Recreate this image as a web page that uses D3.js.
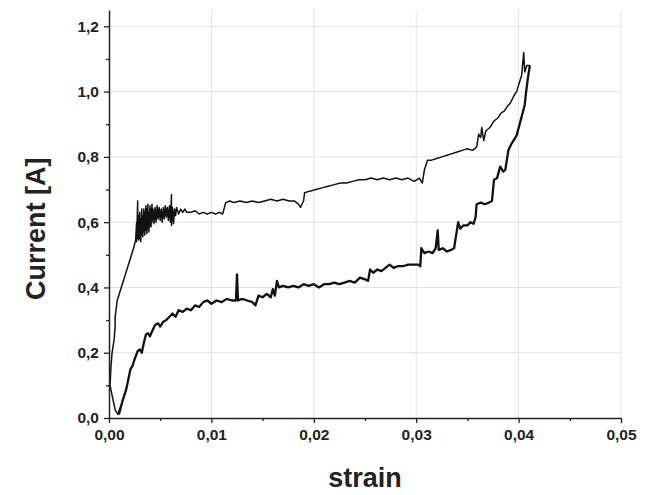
<!DOCTYPE html>
<html>
<head>
<meta charset="utf-8">
<style>
    body { margin: 0; background: #fff; }
    svg { font-family: 'Liberation Sans', Arial, sans-serif; }
    .grid line { stroke: #e2e2e2; stroke-width: 1; }
    .axis .domain { stroke: #222; stroke-width: 1.5; }
    .axis .tick line { stroke: #222; stroke-width: 1.3; }
    .axis .tick text { font-size: 15.5px; font-weight: bold; fill: #222; }
    .axis-label { font-weight: bold; fill: #222; }
</style>
</head>
<body>
<svg width="646" height="495"></svg>
<script src="https://d3js.org/d3.v7.min.js"></script>
<script>
// lower branch of the loop
let lowerStrain = [
    0.0009, 0.0011, 0.0010, 0.0013, 0.0015, 0.0017, 0.0019, 0.0021, 0.0023, 0.0025,
    0.0028, 0.0030, 0.0032, 0.0034, 0.0036, 0.0038, 0.0040, 0.0042, 0.0045, 0.0048,
    0.0050, 0.0053, 0.0056, 0.0059, 0.0062, 0.0065, 0.0068, 0.0072, 0.0076, 0.0080,
    0.0084, 0.0088, 0.0092, 0.0096, 0.0100, 0.0105, 0.0110, 0.0115, 0.0120, 0.0124,
    0.0125, 0.0126, 0.0130, 0.0135, 0.0140, 0.0143, 0.0146, 0.0150, 0.0154, 0.0158,
    0.0160, 0.0162, 0.0164, 0.0166, 0.0170, 0.0175, 0.0180, 0.0185, 0.0190, 0.0195,
    0.0200, 0.0205, 0.0210, 0.0215, 0.0220, 0.0225, 0.0230, 0.0235, 0.0240, 0.0245,
    0.0250, 0.0253, 0.0255, 0.0258, 0.0262, 0.0266, 0.0270, 0.0274, 0.0278, 0.0282,
    0.0287, 0.0292, 0.0297, 0.0302, 0.0304, 0.0305, 0.0308, 0.0312, 0.0316, 0.0319,
    0.0321, 0.0322, 0.0326, 0.0330, 0.0334, 0.0337, 0.0340, 0.0341, 0.0343, 0.0346,
    0.0350, 0.0353, 0.0356, 0.0358, 0.0359, 0.0363, 0.0367, 0.0371, 0.0374, 0.0376,
    0.0379, 0.0382, 0.0385, 0.0387, 0.0390, 0.0393, 0.0395, 0.0398, 0.0401, 0.0404,
    0.0406, 0.0407, 0.0409, 0.0411
]
let lowerCurrent = [
    0.010, 0.030, 0.015, 0.050, 0.070, 0.090, 0.120, 0.150, 0.160, 0.180,
    0.205, 0.210, 0.200, 0.230, 0.255, 0.260, 0.250, 0.265, 0.285, 0.290,
    0.280, 0.295, 0.300, 0.310, 0.320, 0.310, 0.330, 0.325, 0.335, 0.330,
    0.345, 0.340, 0.355, 0.360, 0.350, 0.360, 0.355, 0.365, 0.360, 0.360,
    0.440, 0.360, 0.365, 0.360, 0.355, 0.345, 0.375, 0.370, 0.380, 0.370,
    0.395, 0.375, 0.420, 0.400, 0.405, 0.400, 0.405, 0.400, 0.410, 0.405,
    0.410, 0.400, 0.410, 0.410, 0.415, 0.410, 0.415, 0.420, 0.415, 0.430,
    0.425, 0.420, 0.455, 0.445, 0.455, 0.450, 0.460, 0.470, 0.460, 0.465,
    0.465, 0.470, 0.470, 0.470, 0.465, 0.520, 0.505, 0.510, 0.505, 0.520,
    0.575, 0.515, 0.520, 0.510, 0.515, 0.520, 0.580, 0.600, 0.580, 0.590,
    0.590, 0.600, 0.595, 0.615, 0.655, 0.660, 0.655, 0.660, 0.665, 0.730,
    0.735, 0.770, 0.755, 0.760, 0.820, 0.840, 0.850, 0.865, 0.900, 0.935,
    0.960, 0.990, 1.040, 1.080
]

// upper branch of the loop
let upperStrain = [
    0.0009, 0.0006, 0.0004, 0.0001, 0.0002, 0.0003, 0.0005, 0.0006, 0.0006, 0.0008,
    0.0011, 0.0014, 0.0016, 0.0018, 0.0020, 0.0022, 0.0024, 0.0026, 0.0027, 0.0027,
    0.0028, 0.0028, 0.0029, 0.0029, 0.0030, 0.0030, 0.0031, 0.0031, 0.0032, 0.0032,
    0.0033, 0.0033, 0.0034, 0.0034, 0.0035, 0.0035, 0.0036, 0.0036, 0.0037, 0.0037,
    0.0038, 0.0038, 0.0039, 0.0039, 0.0040, 0.0040, 0.0041, 0.0041, 0.0042, 0.0042,
    0.0043, 0.0044, 0.0045, 0.0046, 0.0047, 0.0048, 0.0049, 0.0050, 0.0051, 0.0052,
    0.0053, 0.0054, 0.0055, 0.0056, 0.0057, 0.0058, 0.0059, 0.0060, 0.0061, 0.0061,
    0.0062, 0.0063, 0.0064, 0.0065, 0.0066, 0.0068, 0.0070, 0.0072, 0.0074, 0.0076,
    0.0080, 0.0084, 0.0088, 0.0092, 0.0096, 0.0100, 0.0104, 0.0108, 0.0111, 0.0114,
    0.0118, 0.0122, 0.0128, 0.0134, 0.0140, 0.0146, 0.0152, 0.0158, 0.0164, 0.0170,
    0.0176, 0.0181, 0.0185, 0.0187, 0.0190, 0.0191, 0.0196, 0.0202, 0.0208, 0.0214,
    0.0220, 0.0226, 0.0232, 0.0238, 0.0244, 0.0250, 0.0256, 0.0262, 0.0268, 0.0274,
    0.0280, 0.0286, 0.0292, 0.0298, 0.0303, 0.0306, 0.0308, 0.0311, 0.0315, 0.0320,
    0.0325, 0.0330, 0.0335, 0.0340, 0.0345, 0.0350, 0.0355, 0.0359, 0.0361, 0.0363,
    0.0364, 0.0366, 0.0368, 0.0372, 0.0376, 0.0380, 0.0383, 0.0386, 0.0389, 0.0392,
    0.0395, 0.0398, 0.0401, 0.0403, 0.0405, 0.0406, 0.0408, 0.0411
]
let upperCurrent = [
    0.010, 0.025, 0.055, 0.100, 0.160, 0.200, 0.240, 0.280, 0.310, 0.360,
    0.390, 0.420, 0.440, 0.460, 0.480, 0.500, 0.520, 0.545, 0.600, 0.540,
    0.665, 0.550, 0.620, 0.545, 0.630, 0.550, 0.610, 0.540, 0.640, 0.560,
    0.620, 0.555, 0.640, 0.570, 0.630, 0.560, 0.650, 0.575, 0.640, 0.565,
    0.655, 0.580, 0.630, 0.570, 0.650, 0.590, 0.640, 0.585, 0.655, 0.600,
    0.640, 0.595, 0.645, 0.600, 0.650, 0.610, 0.645, 0.605, 0.640, 0.600,
    0.645, 0.610, 0.650, 0.615, 0.645, 0.605, 0.650, 0.600, 0.685, 0.590,
    0.645, 0.595, 0.640, 0.620, 0.645, 0.625, 0.640, 0.630, 0.640, 0.630,
    0.630, 0.635, 0.625, 0.630, 0.625, 0.630, 0.625, 0.630, 0.625, 0.660,
    0.665, 0.660, 0.665, 0.660, 0.665, 0.660, 0.665, 0.670, 0.665, 0.670,
    0.665, 0.665, 0.655, 0.645, 0.665, 0.690, 0.695, 0.700, 0.705, 0.710,
    0.715, 0.720, 0.720, 0.725, 0.730, 0.730, 0.735, 0.730, 0.735, 0.730,
    0.735, 0.730, 0.735, 0.725, 0.735, 0.720, 0.760, 0.790, 0.790, 0.795,
    0.800, 0.805, 0.810, 0.815, 0.820, 0.825, 0.820, 0.830, 0.870, 0.860,
    0.890, 0.850, 0.880, 0.890, 0.910, 0.920, 0.935, 0.940, 0.955, 0.965,
    0.985, 1.000, 1.030, 1.050, 1.120, 1.060, 1.080, 1.080
]

let xTicks = [0, 0.01, 0.02, 0.03, 0.04, 0.05]
let xMinor = [0.005, 0.015, 0.025, 0.035, 0.045]
let yTicks = [0, 0.2, 0.4, 0.6, 0.8, 1.0, 1.2]
let yMinor = [0.1, 0.3, 0.5, 0.7, 0.9, 1.1]

let svg = d3.select("svg")
let margin = { top: 10, right: 25, bottom: 77, left: 109 }
let width = 646, height = 495

let x = d3.scaleLinear()
    .domain([0, 0.05])
    .range([margin.left, width - margin.right])

let y = d3.scaleLinear()
    .domain([0, 1.25])
    .range([height - margin.bottom, margin.top])

let comma = f => d => d3.format(f)(d).replace(".", ",")

// grid
let grid = svg.append("g").attr("class", "grid")
grid.selectAll(".gx")
    .data(xTicks.slice(1))
    .join("line")
    .attr("x1", d => x(d)).attr("x2", d => x(d))
    .attr("y1", y(0)).attr("y2", y(1.25))
grid.selectAll(".gy")
    .data(yTicks.slice(1))
    .join("line")
    .attr("class", "gy")
    .attr("x1", x(0)).attr("x2", x(0.05))
    .attr("y1", d => y(d)).attr("y2", d => y(d))

// data
let line = d3.line()
    .x(d => x(d[0]))
    .y(d => y(d[1]))

let lower = lowerStrain.map((s, i) => [s, lowerCurrent[i]])
let upper = upperStrain.map((s, i) => [s, upperCurrent[i]])

svg.selectAll(".curve")
    .data([{ pts: lower, w: 2.3 }, { pts: upper, w: 1.5 }])
    .join("path")
    .attr("class", "curve")
    .attr("fill", "none")
    .attr("stroke", "#111")
    .attr("stroke-width", d => d.w)
    .attr("stroke-linejoin", "round")
    .attr("d", d => line(d.pts))

// axes
svg.append("g")
    .attr("class", "axis")
    .attr("transform", `translate(0,${y(0)})`)
    .call(d3.axisBottom(x).tickValues(xMinor).tickSize(3).tickFormat(""))
    .call(g => g.select(".domain").remove())

svg.append("g")
    .attr("class", "axis")
    .attr("transform", `translate(0,${y(0)})`)
    .call(d3.axisBottom(x).tickValues(xTicks).tickSize(5).tickSizeOuter(0).tickPadding(6).tickFormat(comma(".2f")))

svg.append("g")
    .attr("class", "axis")
    .attr("transform", `translate(${x(0)},0)`)
    .call(d3.axisLeft(y).tickValues(yMinor).tickSize(3).tickFormat(""))
    .call(g => g.select(".domain").remove())

svg.append("g")
    .attr("class", "axis")
    .attr("transform", `translate(${x(0)},0)`)
    .call(d3.axisLeft(y).tickValues(yTicks).tickSize(5).tickSizeOuter(0).tickPadding(5).tickFormat(comma(".1f")))

svg.append("text")
    .attr("class", "axis-label")
    .attr("x", (x(0) + x(0.05)) / 2)
    .attr("y", 487)
    .attr("text-anchor", "middle")
    .style("font-size", "27px")
    .text("strain")

svg.append("text")
    .attr("class", "axis-label")
    .attr("transform", `translate(45,${y(0.58)}) rotate(-90)`)
    .attr("text-anchor", "middle")
    .style("font-size", "27px")
    .text("Current [A]")
</script>
</body>
</html>
